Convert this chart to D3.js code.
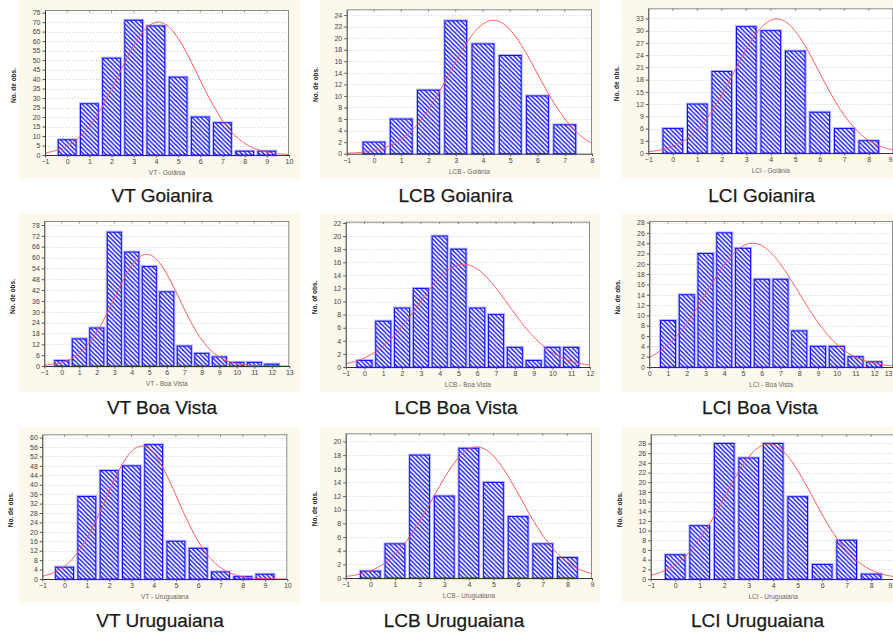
<!DOCTYPE html>
<html><head><meta charset="utf-8">
<script src="https://cdn.jsdelivr.net/npm/d3@7"></script>
<style>body{margin:0;background:#fff;overflow:hidden;} svg{display:block;}</style>
</head><body>
<svg id="c" width="893" height="633"></svg>
<script>
// ---------------- DATA ----------------
const panelTitles = ["VT Goianira","LCB Goianira","LCI Goianira",
                     "VT Boa Vista","LCB Boa Vista","LCI Boa Vista",
                     "VT Uruguaiana","LCB Uruguaiana","LCI Uruguaiana"];
const xAxisLabels = ["VT - Goiânia","LCB - Goiânia","LCI - Goiânia",
                     "VT - Boa Vista","LCB - Boa Vista","LCI - Boa Vista",
                     "VT - Uruguaiana","LCB - Uruguaiana","LCI - Uruguaiana"];
const yAxisLabels = ["No. de obs.","No. de obs.","No. de obs.",
                     "No. de obs.","No. of obs.","No. de obs.",
                     "No. de obs.","No. de obs.","No. de obs."];
const xDomainMin = [-1,-1,-1, -1,-1,0, -1,-1,-1];
const xDomainMax = [10,8,9, 13,12,13, 10,9,9];
const yDomainMax = [76.4,25,35.5, 80.2,22.2,28.3, 61.4,21.2,29.9];
const yTickStep  = [5,2,3, 6,2,2, 4,2,2];
const yTickTop   = [75,24,33, 78,22,28, 60,20,28];
const firstClass = [0,0,0, 0,0,1, 0,0,0];

const countsVTGoiania    = [8,27,51,71,68,41,20,17,2,2];
const countsLCBGoiania   = [2,6,11,23,19,17,10,5];
const countsLCIGoiania   = [6,12,20,31,30,25,10,6,3];
const countsVTBoaVista   = [3,15,21,74,63,55,41,11,7,5,2,2,1];
const countsLCBBoaVista  = [1,7,9,12,20,18,9,8,3,1,3,3];
const countsLCIBoaVista  = [9,14,22,26,23,17,17,7,4,4,2,1];
const countsVTUruguaiana = [5,35,46,48,57,16,13,3,1,2];
const countsLCBUruguaiana= [1,5,18,12,19,14,9,5,3];
const countsLCIUruguaiana= [5,11,28,25,28,17,3,8,1];
const panelCounts = [countsVTGoiania,countsLCBGoiania,countsLCIGoiania,
                     countsVTBoaVista,countsLCBBoaVista,countsLCIBoaVista,
                     countsVTUruguaiana,countsLCBUruguaiana,countsLCIUruguaiana];

// fitted normal curves (mean, sd, peak height)
const normalMean = [4.1,4.38,4.24, 4.85,5.26,5.51, 3.46,4.32,3.81];
const normalSD   = [1.77,1.6,1.73, 1.85,2.39,2.44, 1.6,1.79,1.8];
const normalPeak = [70,23.1,32.9, 61.8,15.7,24, 56.4,19.2,27.9];

// ---------------- LAYOUT ----------------
const plotRects = [ // [left, top, right, bottom]
  [45,10,289,155],[346.7,9.3,592,153.7],[648.3,8.3,893.3,153],
  [44.3,221,289.3,366],[345.7,221.7,590,367],[649.3,221,893,367],
  [42.3,434.3,287.3,579],[345.7,433.3,592,578],[650.7,434.3,895.7,579]
];
const creamCols = [[18,300],[320,600],[622,893]];
const creamRows = [[0,179],[213,392],[427,603]];
const titleCenters = [162,455.5,761.5, 162,456,760, 160,454,757.5];
const titleBaselines = [202,414,626.5];
const W = 893;

const svg = d3.select("#c");
const defs = svg.append("defs");
const hw = 4.4;
const pat = defs.append("pattern").attr("id","hatch")
  .attr("patternUnits","userSpaceOnUse").attr("width",hw).attr("height",hw);
pat.append("rect").attr("width",hw).attr("height",hw).attr("fill","#fff");
pat.append("path")
  .attr("d",`M-1,-1L${hw+1},${hw+1}M-1,${hw-1}L1,${hw+1}M${hw-1},-1L${hw+1},1`)
  .attr("stroke","#0b0bf5").attr("stroke-width",1.35);

// cream backgrounds
creamRows.forEach(r => creamCols.forEach(c => {
  svg.append("rect").attr("x",c[0]).attr("y",r[0])
    .attr("width",c[1]-c[0]).attr("height",r[1]-r[0]).attr("fill","#fcf8ec");
}));

const font = "'Liberation Sans', Arial, sans-serif";

panelCounts.forEach((counts, i) => {
  const [L,T,R,B] = plotRects[i];
  const xs = d3.scaleLinear().domain([xDomainMin[i], xDomainMax[i]]).range([L,R]);
  const ys = d3.scaleLinear().domain([0, yDomainMax[i]]).range([B,T]);
  const g = svg.append("g");
  const clipId = "clip"+i;
  defs.append("clipPath").attr("id",clipId).append("rect")
    .attr("x",L).attr("y",T).attr("width",R-L).attr("height",B-T);

  g.append("rect").attr("x",L).attr("y",T).attr("width",R-L).attr("height",B-T)
    .attr("fill","#fff");

  const yTicks = d3.range(0, yTickTop[i] + yTickStep[i]/2, yTickStep[i]);
  // gridlines
  g.append("g").selectAll("line").data(yTicks.filter(v => v > 0)).join("line")
    .attr("x1",L).attr("x2",R).attr("y1",d=>Math.round(ys(d))+0.5).attr("y2",d=>Math.round(ys(d))+0.5)
    .attr("stroke","#cfcfcf").attr("stroke-width",1).attr("stroke-dasharray","1,2");

  // bars
  const bars = counts.map((v,k) => ({x: firstClass[i]+k, v}));
  g.append("g").selectAll("rect").data(bars).join("rect")
    .attr("x",d=>xs(d.x-0.4)).attr("y",d=>ys(d.v))
    .attr("width",d=>xs(d.x+0.4)-xs(d.x-0.4)).attr("height",d=>ys(0)-ys(d.v))
    .attr("fill","none").attr("stroke","#b4b4ff").attr("stroke-width",3);
  g.append("g").selectAll("rect").data(bars).join("rect")
    .attr("x",d=>xs(d.x-0.4)).attr("y",d=>ys(d.v))
    .attr("width",d=>xs(d.x+0.4)-xs(d.x-0.4)).attr("height",d=>ys(0)-ys(d.v))
    .attr("fill","url(#hatch)").attr("stroke","#1010ff").attr("stroke-width",1);

  // normal curve
  const [x0,x1] = xs.domain();
  const pts = d3.range(0,301).map(j => {
    const x = x0 + (x1-x0)*j/300;
    return [x, normalPeak[i]*Math.exp(-Math.pow(x-normalMean[i],2)/(2*normalSD[i]*normalSD[i]))];
  });
  g.append("path").datum(pts)
    .attr("d", d3.line().x(d=>xs(d[0])).y(d=>ys(d[1])))
    .attr("fill","none").attr("stroke","#ff5050").attr("stroke-width",1)
    .attr("clip-path",`url(#${clipId})`);

  // frame
  g.append("line").attr("x1",L).attr("x2",R).attr("y1",T+0.5).attr("y2",T+0.5).attr("stroke","#8a8a8a");
  g.append("line").attr("x1",R-0.5).attr("x2",R-0.5).attr("y1",T).attr("y2",B).attr("stroke","#8a8a8a");
  // top ticks
  g.append("g").selectAll("line").data(d3.range(x0+1, x1)).join("line")
    .attr("x1",d=>xs(d)).attr("x2",d=>xs(d)).attr("y1",T).attr("y2",T+2.5).attr("stroke","#8a8a8a");

  // axes
  const ya = g.append("g").attr("transform",`translate(${L},0)`)
    .call(d3.axisLeft(ys).tickValues(yTicks).tickSize(2.5).tickPadding(2).tickSizeOuter(0));
  const xa = g.append("g").attr("transform",`translate(0,${B})`)
    .call(d3.axisBottom(xs).tickValues(d3.range(x0, x1+0.5, 1)).tickSize(2.5).tickPadding(2).tickSizeOuter(0));
  [ya,xa].forEach(a => {
    a.selectAll("text").attr("font-size",7).attr("font-family",font).attr("fill","#444");
    a.select(".domain").attr("stroke","#333");
    a.selectAll(".tick line").attr("stroke","#555");
  });
  // keep tick labels at the page's right edge inside the picture
  xa.selectAll(".tick").each(function(d){
    const t = d3.select(this).select("text");
    if (xs(d) + 5 > W) t.attr("text-anchor","end").attr("x", W - 1 - xs(d));
  });

  // axis labels
  g.append("text").attr("x",(L+R)/2).attr("y",B+20).attr("text-anchor","middle")
    .attr("font-size",6.5).attr("font-family",font).attr("fill","#666").text(xAxisLabels[i]);
  g.append("text").attr("transform",`translate(${L-29},${(T+B)/2+3}) rotate(-90)`)
    .attr("text-anchor","middle").attr("font-size",6.5).attr("font-weight","bold")
    .attr("font-family",font).attr("fill","#222").text(yAxisLabels[i]);

  // title
  svg.append("text").attr("x",titleCenters[i]).attr("y",titleBaselines[Math.floor(i/3)])
    .attr("text-anchor","middle").attr("font-size",19).attr("font-family",font)
    .attr("fill","#1a1a1a").attr("stroke","#1a1a1a").attr("stroke-width",0.25)
    .text(panelTitles[i]);
});
</script>
</body></html>
